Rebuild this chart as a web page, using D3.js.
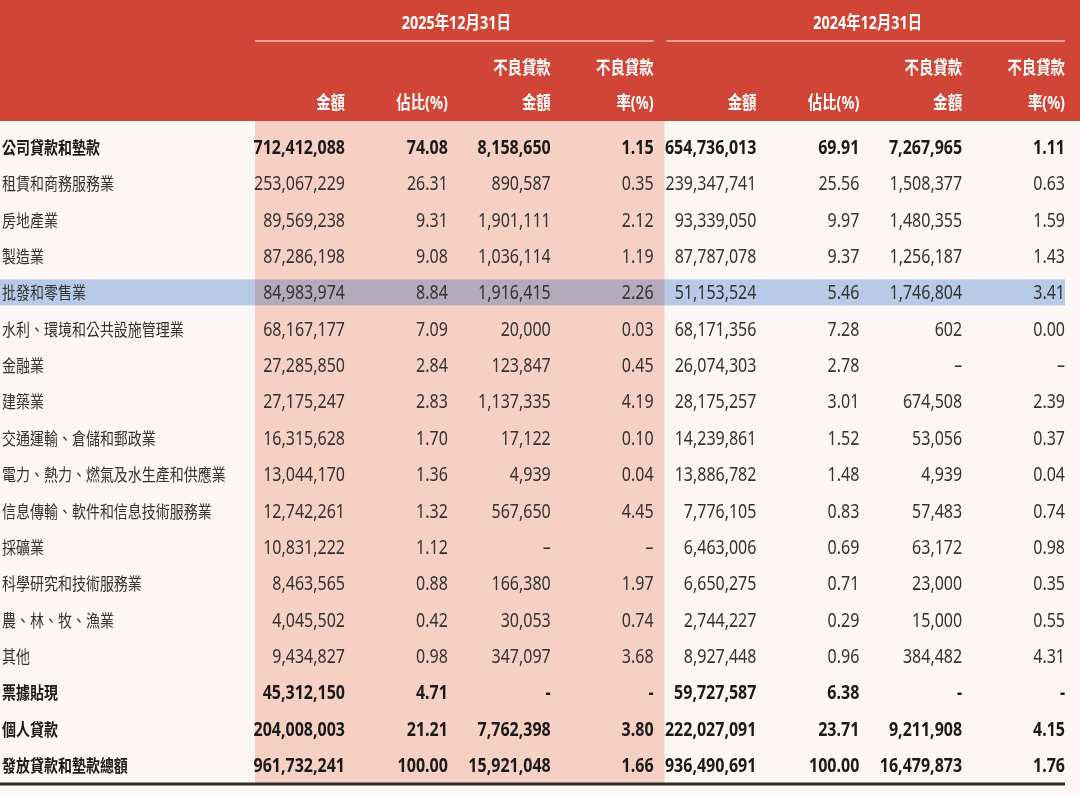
<!DOCTYPE html>
<html>
<head>
<meta charset="utf-8">
<script src="https://cdn.jsdelivr.net/npm/d3@7"></script>
<style>
  body { margin: 0; background: #fcf7f5; }
  text { font-family: "Noto Sans", "Noto Sans CJK TC", sans-serif; }
</style>
</head>
<body>
<svg id="chart" width="1080" height="796"></svg>
<script>
// row labels
const categories = [
  '公司貸款和墊款', '租賃和商務服務業', '房地產業', '製造業', '批發和零售業',
  '水利、環境和公共設施管理業', '金融業', '建築業', '交通運輸、倉儲和郵政業',
  '電力、熱力、燃氣及水生產和供應業', '信息傳輸、軟件和信息技術服務業', '採礦業',
  '科學研究和技術服務業', '農、林、牧、漁業', '其他', '票據貼現', '個人貸款',
  '發放貸款和墊款總額'
];
const boldRows = ['公司貸款和墊款', '票據貼現', '個人貸款', '發放貸款和墊款總額'];
const highlightRow = '批發和零售業';

// 2025-12-31
const amt2025 = [712412088, 253067229, 89569238, 87286198, 84983974, 68167177, 27285850,
  27175247, 16315628, 13044170, 12742261, 10831222, 8463565, 4045502, 9434827,
  45312150, 204008003, 961732241];
const pct2025 = [74.08, 26.31, 9.31, 9.08, 8.84, 7.09, 2.84, 2.83, 1.70, 1.36, 1.32, 1.12,
  0.88, 0.42, 0.98, 4.71, 21.21, 100.00];
const npl2025 = [8158650, 890587, 1901111, 1036114, 1916415, 20000, 123847, 1137335, 17122,
  4939, 567650, null, 166380, 30053, 347097, null, 7762398, 15921048];
const rate2025 = [1.15, 0.35, 2.12, 1.19, 2.26, 0.03, 0.45, 4.19, 0.10, 0.04, 4.45, null,
  1.97, 0.74, 3.68, null, 3.80, 1.66];

// 2024-12-31
const amt2024 = [654736013, 239347741, 93339050, 87787078, 51153524, 68171356, 26074303,
  28175257, 14239861, 13886782, 7776105, 6463006, 6650275, 2744227, 8927448,
  59727587, 222027091, 936490691];
const pct2024 = [69.91, 25.56, 9.97, 9.37, 5.46, 7.28, 2.78, 3.01, 1.52, 1.48, 0.83, 0.69,
  0.71, 0.29, 0.96, 6.38, 23.71, 100.00];
const npl2024 = [7267965, 1508377, 1480355, 1256187, 1746804, 602, null, 674508, 53056,
  4939, 57483, 63172, 23000, 15000, 384482, null, 9211908, 16479873];
const rate2024 = [1.11, 0.63, 1.59, 1.43, 3.41, 0.00, null, 2.39, 0.37, 0.04, 0.74, 0.98,
  0.35, 0.55, 4.31, null, 4.15, 1.76];

const groups = ['2025年12月31日', '2024年12月31日'];
const headTop = ['', '', '不良貸款', '不良貸款'];
const headBottom = ['金額', '佔比(%)', '金額', '率(%)'];

const columns = [amt2025, pct2025, npl2025, rate2025, amt2024, pct2024, npl2024, rate2024];
const fmtAmt = d3.format(',');
const fmtPct = d3.format('.2f');

const svg = d3.select('#chart');
const W = 1080, H = 796;
const red = '#d14536';
const squeeze = 0.8; // condensed look

// column right edges and row centres
const x = d3.scaleLinear().domain([0, 7]).range([345, 1065]);
const y = d3.scaleLinear().domain([0, categories.length - 1]).range([147, 765]);
const rowH = y(1) - y(0);
const colW = x(1) - x(0);

svg.append('rect').attr('width', W).attr('height', H).attr('fill', '#fcf7f5');

// shaded 2025 block
svg.append('rect')
  .attr('x', x(0) - 90).attr('y', 120)
  .attr('width', x(3) + 11 - (x(0) - 90)).attr('height', 784 - 120)
  .attr('fill', '#f7d0c4');

// highlighted row
const hi = categories.indexOf(highlightRow);
svg.append('rect')
  .attr('x', 0).attr('y', y(hi) - 13)
  .attr('width', x(7)).attr('height', 26)
  .attr('fill', '#b9d2f3')
  .style('mix-blend-mode', 'multiply');

// header
svg.append('rect').attr('width', W).attr('height', 121).attr('fill', red);

function putText(sel, tx, ty, str, opts) {
  return sel.append('text')
    .attr('transform', `translate(${tx},${ty}) scale(${squeeze},1)`)
    .attr('text-anchor', opts.anchor || 'end')
    .attr('font-size', opts.size || 20)
    .attr('font-weight', opts.weight || 400)
    .attr('fill', opts.fill || '#333')
    .text(str);
}

const head = svg.append('g');
groups.forEach((g, gi) => {
  const left = x(gi * 4) - 90;
  const right = x(gi * 4 + 3);
  putText(head, (left + right) / 2 + 2, 29, g, { anchor: 'middle', size: 18, weight: 700, fill: '#fff' });
  head.append('line')
    .attr('x1', left).attr('x2', right)
    .attr('y1', 41).attr('y2', 41)
    .attr('stroke', '#fff').attr('stroke-width', 1.2);
  headBottom.forEach((h, i) => {
    const cx = x(gi * 4 + i);
    if (headTop[i]) putText(head, cx, 74, headTop[i], { size: 18, weight: 700, fill: '#fff' });
    putText(head, cx, 109, h, { size: 18, weight: 700, fill: '#fff' });
  });
});

// body rows
const rows = svg.append('g')
  .selectAll('g')
  .data(categories)
  .join('g');

rows.each(function (cat, ri) {
  const g = d3.select(this);
  const bold = boldRows.includes(cat);
  const color = bold ? '#1a1a1a' : '#333';
  const weight = bold ? 700 : 400;
  const base = y(ri) + 7;
  putText(g, 2, base, cat, { anchor: 'start', size: 17.5, weight: weight, fill: color });
  columns.forEach((col, ci) => {
    const v = col[ri];
    let str;
    if (v === null) str = bold ? '-' : '–';
    else str = (ci % 4 === 0 || ci % 4 === 2) ? fmtAmt(v) : fmtPct(v);
    putText(g, x(ci), base, str, { size: 20, weight: weight, fill: color });
  });
});

// closing rule
svg.append('line')
  .attr('x1', 0).attr('x2', x(7))
  .attr('y1', 784).attr('y2', 784)
  .attr('stroke', '#2b2b2b').attr('stroke-width', 3);
</script>
</body>
</html>
